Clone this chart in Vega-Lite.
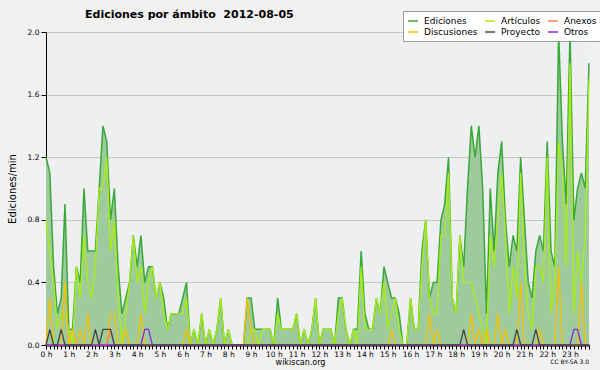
{
  "$schema": "https://vega.github.io/schema/vega-lite/v6.json",
  "width": 543,
  "height": 313,
  "autosize": {"type": "none"},
  "padding": {"left": 46, "top": 32, "right": 11, "bottom": 25},
  "background": "#f1f1f1",
  "config": {"view": {"fill": "#eeeff1", "stroke": null}, "font": "DejaVu Sans"},
  "title": {"text": "Ediciones por ámbito\u00a0 2012-08-05", "anchor": "start", "frame": "group", "dx": 39, "offset": -9, "fontSize": 11, "fontWeight": "bold", "font": "DejaVu Sans", "color": "#000000"},
  "datasets": {
    "ediciones": [
      {"minuto":0,"Ediciones":1.2,"Artículos":0.8,"Discusiones":0,"Proyecto":0,"Anexos":0,"Otros":0},
      {"minuto":10,"Ediciones":1.1,"Artículos":0.6,"Discusiones":0.3,"Proyecto":0.1,"Anexos":0,"Otros":0},
      {"minuto":20,"Ediciones":0.5,"Artículos":0.4,"Discusiones":0,"Proyecto":0,"Anexos":0,"Otros":0},
      {"minuto":30,"Ediciones":0.2,"Artículos":0.1,"Discusiones":0,"Proyecto":0,"Anexos":0,"Otros":0},
      {"minuto":40,"Ediciones":0.3,"Artículos":0.2,"Discusiones":0,"Proyecto":0.1,"Anexos":0,"Otros":0},
      {"minuto":50,"Ediciones":0.9,"Artículos":0.2,"Discusiones":0.4,"Proyecto":0,"Anexos":0,"Otros":0},
      {"minuto":60,"Ediciones":0.1,"Artículos":0.1,"Discusiones":0,"Proyecto":0,"Anexos":0,"Otros":0},
      {"minuto":70,"Ediciones":0.1,"Artículos":0,"Discusiones":0.1,"Proyecto":0,"Anexos":0,"Otros":0},
      {"minuto":80,"Ediciones":0.5,"Artículos":0.5,"Discusiones":0,"Proyecto":0,"Anexos":0,"Otros":0},
      {"minuto":90,"Ediciones":0.4,"Artículos":0.3,"Discusiones":0.1,"Proyecto":0,"Anexos":0,"Otros":0},
      {"minuto":100,"Ediciones":1.0,"Artículos":0.7,"Discusiones":0,"Proyecto":0,"Anexos":0,"Otros":0},
      {"minuto":110,"Ediciones":0.6,"Artículos":0.4,"Discusiones":0.2,"Proyecto":0,"Anexos":0,"Otros":0},
      {"minuto":120,"Ediciones":0.6,"Artículos":0.3,"Discusiones":0,"Proyecto":0,"Anexos":0,"Otros":0},
      {"minuto":130,"Ediciones":0.6,"Artículos":0.5,"Discusiones":0,"Proyecto":0.1,"Anexos":0,"Otros":0},
      {"minuto":140,"Ediciones":1.0,"Artículos":1.0,"Discusiones":0,"Proyecto":0,"Anexos":0,"Otros":0},
      {"minuto":150,"Ediciones":1.4,"Artículos":1.0,"Discusiones":0,"Proyecto":0.1,"Anexos":0,"Otros":0},
      {"minuto":160,"Ediciones":1.3,"Artículos":1.2,"Discusiones":0,"Proyecto":0.1,"Anexos":0,"Otros":0},
      {"minuto":170,"Ediciones":0.8,"Artículos":0.6,"Discusiones":0.2,"Proyecto":0.1,"Anexos":0.1,"Otros":0},
      {"minuto":180,"Ediciones":1.0,"Artículos":0.8,"Discusiones":0.2,"Proyecto":0,"Anexos":0,"Otros":0},
      {"minuto":190,"Ediciones":0.5,"Artículos":0.3,"Discusiones":0,"Proyecto":0,"Anexos":0,"Otros":0},
      {"minuto":200,"Ediciones":0.2,"Artículos":0,"Discusiones":0,"Proyecto":0,"Anexos":0,"Otros":0},
      {"minuto":210,"Ediciones":0.3,"Artículos":0.2,"Discusiones":0.1,"Proyecto":0,"Anexos":0,"Otros":0},
      {"minuto":220,"Ediciones":0.4,"Artículos":0.4,"Discusiones":0,"Proyecto":0,"Anexos":0,"Otros":0},
      {"minuto":230,"Ediciones":0.7,"Artículos":0.7,"Discusiones":0,"Proyecto":0,"Anexos":0,"Otros":0},
      {"minuto":240,"Ediciones":0.5,"Artículos":0.4,"Discusiones":0,"Proyecto":0,"Anexos":0,"Otros":0},
      {"minuto":250,"Ediciones":0.7,"Artículos":0.5,"Discusiones":0.2,"Proyecto":0,"Anexos":0,"Otros":0},
      {"minuto":260,"Ediciones":0.4,"Artículos":0.2,"Discusiones":0,"Proyecto":0,"Anexos":0,"Otros":0.1},
      {"minuto":270,"Ediciones":0.5,"Artículos":0.4,"Discusiones":0,"Proyecto":0,"Anexos":0,"Otros":0.1},
      {"minuto":280,"Ediciones":0.5,"Artículos":0.5,"Discusiones":0,"Proyecto":0,"Anexos":0,"Otros":0},
      {"minuto":290,"Ediciones":0.3,"Artículos":0.3,"Discusiones":0,"Proyecto":0,"Anexos":0,"Otros":0},
      {"minuto":300,"Ediciones":0.4,"Artículos":0.4,"Discusiones":0,"Proyecto":0,"Anexos":0,"Otros":0},
      {"minuto":310,"Ediciones":0.3,"Artículos":0.2,"Discusiones":0,"Proyecto":0,"Anexos":0,"Otros":0},
      {"minuto":320,"Ediciones":0.1,"Artículos":0.1,"Discusiones":0,"Proyecto":0,"Anexos":0,"Otros":0},
      {"minuto":330,"Ediciones":0.2,"Artículos":0.2,"Discusiones":0,"Proyecto":0,"Anexos":0,"Otros":0},
      {"minuto":340,"Ediciones":0.2,"Artículos":0.2,"Discusiones":0,"Proyecto":0,"Anexos":0,"Otros":0},
      {"minuto":350,"Ediciones":0.2,"Artículos":0.2,"Discusiones":0,"Proyecto":0,"Anexos":0,"Otros":0},
      {"minuto":360,"Ediciones":0.3,"Artículos":0.2,"Discusiones":0,"Proyecto":0,"Anexos":0,"Otros":0},
      {"minuto":370,"Ediciones":0.4,"Artículos":0.3,"Discusiones":0.1,"Proyecto":0,"Anexos":0,"Otros":0},
      {"minuto":380,"Ediciones":0,"Artículos":0,"Discusiones":0,"Proyecto":0,"Anexos":0,"Otros":0},
      {"minuto":390,"Ediciones":0.1,"Artículos":0.1,"Discusiones":0,"Proyecto":0,"Anexos":0,"Otros":0},
      {"minuto":400,"Ediciones":0,"Artículos":0,"Discusiones":0,"Proyecto":0,"Anexos":0,"Otros":0},
      {"minuto":410,"Ediciones":0.2,"Artículos":0.2,"Discusiones":0,"Proyecto":0,"Anexos":0,"Otros":0},
      {"minuto":420,"Ediciones":0,"Artículos":0,"Discusiones":0,"Proyecto":0,"Anexos":0,"Otros":0},
      {"minuto":430,"Ediciones":0.1,"Artículos":0.1,"Discusiones":0,"Proyecto":0,"Anexos":0,"Otros":0},
      {"minuto":440,"Ediciones":0,"Artículos":0,"Discusiones":0,"Proyecto":0,"Anexos":0,"Otros":0},
      {"minuto":450,"Ediciones":0.1,"Artículos":0.1,"Discusiones":0,"Proyecto":0,"Anexos":0,"Otros":0},
      {"minuto":460,"Ediciones":0.3,"Artículos":0.3,"Discusiones":0,"Proyecto":0,"Anexos":0,"Otros":0},
      {"minuto":470,"Ediciones":0,"Artículos":0,"Discusiones":0,"Proyecto":0,"Anexos":0,"Otros":0},
      {"minuto":480,"Ediciones":0.1,"Artículos":0.1,"Discusiones":0,"Proyecto":0,"Anexos":0,"Otros":0},
      {"minuto":490,"Ediciones":0,"Artículos":0,"Discusiones":0,"Proyecto":0,"Anexos":0,"Otros":0},
      {"minuto":500,"Ediciones":0,"Artículos":0,"Discusiones":0,"Proyecto":0,"Anexos":0,"Otros":0},
      {"minuto":510,"Ediciones":0,"Artículos":0,"Discusiones":0,"Proyecto":0,"Anexos":0,"Otros":0},
      {"minuto":520,"Ediciones":0,"Artículos":0,"Discusiones":0,"Proyecto":0,"Anexos":0,"Otros":0},
      {"minuto":530,"Ediciones":0.3,"Artículos":0,"Discusiones":0.3,"Proyecto":0,"Anexos":0,"Otros":0},
      {"minuto":540,"Ediciones":0.3,"Artículos":0.1,"Discusiones":0.1,"Proyecto":0,"Anexos":0,"Otros":0},
      {"minuto":550,"Ediciones":0.1,"Artículos":0.1,"Discusiones":0,"Proyecto":0,"Anexos":0,"Otros":0},
      {"minuto":560,"Ediciones":0.1,"Artículos":0,"Discusiones":0,"Proyecto":0,"Anexos":0,"Otros":0},
      {"minuto":570,"Ediciones":0.1,"Artículos":0.1,"Discusiones":0,"Proyecto":0,"Anexos":0,"Otros":0},
      {"minuto":580,"Ediciones":0.1,"Artículos":0.1,"Discusiones":0,"Proyecto":0,"Anexos":0,"Otros":0},
      {"minuto":590,"Ediciones":0.1,"Artículos":0.1,"Discusiones":0,"Proyecto":0,"Anexos":0,"Otros":0},
      {"minuto":600,"Ediciones":0,"Artículos":0,"Discusiones":0,"Proyecto":0,"Anexos":0,"Otros":0},
      {"minuto":610,"Ediciones":0.3,"Artículos":0.2,"Discusiones":0,"Proyecto":0,"Anexos":0,"Otros":0},
      {"minuto":620,"Ediciones":0.1,"Artículos":0.1,"Discusiones":0,"Proyecto":0,"Anexos":0,"Otros":0},
      {"minuto":630,"Ediciones":0.1,"Artículos":0.1,"Discusiones":0,"Proyecto":0,"Anexos":0,"Otros":0},
      {"minuto":640,"Ediciones":0.1,"Artículos":0.1,"Discusiones":0,"Proyecto":0,"Anexos":0,"Otros":0},
      {"minuto":650,"Ediciones":0.1,"Artículos":0.1,"Discusiones":0,"Proyecto":0,"Anexos":0,"Otros":0},
      {"minuto":660,"Ediciones":0.2,"Artículos":0.2,"Discusiones":0,"Proyecto":0,"Anexos":0,"Otros":0},
      {"minuto":670,"Ediciones":0,"Artículos":0,"Discusiones":0,"Proyecto":0,"Anexos":0,"Otros":0},
      {"minuto":680,"Ediciones":0.1,"Artículos":0.1,"Discusiones":0,"Proyecto":0,"Anexos":0,"Otros":0},
      {"minuto":690,"Ediciones":0,"Artículos":0,"Discusiones":0,"Proyecto":0,"Anexos":0,"Otros":0},
      {"minuto":700,"Ediciones":0.1,"Artículos":0.1,"Discusiones":0,"Proyecto":0,"Anexos":0,"Otros":0},
      {"minuto":710,"Ediciones":0.3,"Artículos":0.3,"Discusiones":0,"Proyecto":0,"Anexos":0,"Otros":0},
      {"minuto":720,"Ediciones":0,"Artículos":0,"Discusiones":0,"Proyecto":0,"Anexos":0,"Otros":0},
      {"minuto":730,"Ediciones":0.1,"Artículos":0.1,"Discusiones":0,"Proyecto":0,"Anexos":0,"Otros":0},
      {"minuto":740,"Ediciones":0.1,"Artículos":0.1,"Discusiones":0,"Proyecto":0,"Anexos":0,"Otros":0},
      {"minuto":750,"Ediciones":0.1,"Artículos":0.1,"Discusiones":0,"Proyecto":0,"Anexos":0,"Otros":0},
      {"minuto":760,"Ediciones":0,"Artículos":0,"Discusiones":0,"Proyecto":0,"Anexos":0,"Otros":0},
      {"minuto":770,"Ediciones":0.3,"Artículos":0.2,"Discusiones":0,"Proyecto":0,"Anexos":0,"Otros":0},
      {"minuto":780,"Ediciones":0.3,"Artículos":0.3,"Discusiones":0,"Proyecto":0,"Anexos":0,"Otros":0},
      {"minuto":790,"Ediciones":0.1,"Artículos":0.1,"Discusiones":0,"Proyecto":0,"Anexos":0,"Otros":0},
      {"minuto":800,"Ediciones":0,"Artículos":0,"Discusiones":0,"Proyecto":0,"Anexos":0,"Otros":0},
      {"minuto":810,"Ediciones":0.1,"Artículos":0.1,"Discusiones":0,"Proyecto":0,"Anexos":0,"Otros":0},
      {"minuto":820,"Ediciones":0.1,"Artículos":0,"Discusiones":0,"Proyecto":0,"Anexos":0,"Otros":0},
      {"minuto":830,"Ediciones":0.6,"Artículos":0.5,"Discusiones":0,"Proyecto":0,"Anexos":0,"Otros":0},
      {"minuto":840,"Ediciones":0.2,"Artículos":0.1,"Discusiones":0,"Proyecto":0,"Anexos":0,"Otros":0},
      {"minuto":850,"Ediciones":0.1,"Artículos":0.1,"Discusiones":0,"Proyecto":0,"Anexos":0,"Otros":0},
      {"minuto":860,"Ediciones":0.1,"Artículos":0.1,"Discusiones":0,"Proyecto":0,"Anexos":0,"Otros":0},
      {"minuto":870,"Ediciones":0.3,"Artículos":0.3,"Discusiones":0,"Proyecto":0,"Anexos":0,"Otros":0},
      {"minuto":880,"Ediciones":0.2,"Artículos":0.2,"Discusiones":0,"Proyecto":0,"Anexos":0,"Otros":0},
      {"minuto":890,"Ediciones":0.5,"Artículos":0.4,"Discusiones":0,"Proyecto":0,"Anexos":0,"Otros":0},
      {"minuto":900,"Ediciones":0.4,"Artículos":0.1,"Discusiones":0,"Proyecto":0,"Anexos":0,"Otros":0},
      {"minuto":910,"Ediciones":0.3,"Artículos":0.2,"Discusiones":0.1,"Proyecto":0,"Anexos":0,"Otros":0},
      {"minuto":920,"Ediciones":0.3,"Artículos":0.3,"Discusiones":0,"Proyecto":0,"Anexos":0,"Otros":0},
      {"minuto":930,"Ediciones":0.2,"Artículos":0.1,"Discusiones":0,"Proyecto":0,"Anexos":0,"Otros":0},
      {"minuto":940,"Ediciones":0,"Artículos":0,"Discusiones":0,"Proyecto":0,"Anexos":0,"Otros":0},
      {"minuto":950,"Ediciones":0,"Artículos":0,"Discusiones":0,"Proyecto":0,"Anexos":0,"Otros":0},
      {"minuto":960,"Ediciones":0.3,"Artículos":0.3,"Discusiones":0,"Proyecto":0,"Anexos":0,"Otros":0},
      {"minuto":970,"Ediciones":0.1,"Artículos":0.1,"Discusiones":0,"Proyecto":0,"Anexos":0,"Otros":0},
      {"minuto":980,"Ediciones":0.1,"Artículos":0.1,"Discusiones":0,"Proyecto":0,"Anexos":0,"Otros":0},
      {"minuto":990,"Ediciones":0.6,"Artículos":0.5,"Discusiones":0,"Proyecto":0,"Anexos":0,"Otros":0},
      {"minuto":1000,"Ediciones":0.8,"Artículos":0.8,"Discusiones":0,"Proyecto":0,"Anexos":0,"Otros":0},
      {"minuto":1010,"Ediciones":0.3,"Artículos":0.3,"Discusiones":0.2,"Proyecto":0,"Anexos":0,"Otros":0},
      {"minuto":1020,"Ediciones":0.4,"Artículos":0.2,"Discusiones":0,"Proyecto":0,"Anexos":0,"Otros":0},
      {"minuto":1030,"Ediciones":0.4,"Artículos":0.2,"Discusiones":0.1,"Proyecto":0,"Anexos":0,"Otros":0},
      {"minuto":1040,"Ediciones":0.8,"Artículos":0.7,"Discusiones":0,"Proyecto":0,"Anexos":0,"Otros":0},
      {"minuto":1050,"Ediciones":0.9,"Artículos":0.7,"Discusiones":0,"Proyecto":0,"Anexos":0,"Otros":0},
      {"minuto":1060,"Ediciones":1.2,"Artículos":1.1,"Discusiones":0,"Proyecto":0,"Anexos":0,"Otros":0},
      {"minuto":1070,"Ediciones":0.3,"Artículos":0.3,"Discusiones":0,"Proyecto":0,"Anexos":0,"Otros":0},
      {"minuto":1080,"Ediciones":0.2,"Artículos":0.2,"Discusiones":0,"Proyecto":0,"Anexos":0,"Otros":0},
      {"minuto":1090,"Ediciones":0.7,"Artículos":0.7,"Discusiones":0,"Proyecto":0,"Anexos":0,"Otros":0},
      {"minuto":1100,"Ediciones":0.5,"Artículos":0.4,"Discusiones":0,"Proyecto":0.1,"Anexos":0,"Otros":0},
      {"minuto":1110,"Ediciones":1.0,"Artículos":0.4,"Discusiones":0,"Proyecto":0,"Anexos":0,"Otros":0},
      {"minuto":1120,"Ediciones":1.4,"Artículos":0.4,"Discusiones":0.2,"Proyecto":0,"Anexos":0,"Otros":0},
      {"minuto":1130,"Ediciones":1.2,"Artículos":0.3,"Discusiones":0,"Proyecto":0,"Anexos":0,"Otros":0},
      {"minuto":1140,"Ediciones":1.4,"Artículos":0.2,"Discusiones":0.1,"Proyecto":0,"Anexos":0,"Otros":0},
      {"minuto":1150,"Ediciones":1.0,"Artículos":0.1,"Discusiones":0,"Proyecto":0,"Anexos":0,"Otros":0},
      {"minuto":1160,"Ediciones":0.2,"Artículos":0,"Discusiones":0.1,"Proyecto":0,"Anexos":0,"Otros":0},
      {"minuto":1170,"Ediciones":1.0,"Artículos":0.7,"Discusiones":0,"Proyecto":0,"Anexos":0,"Otros":0},
      {"minuto":1180,"Ediciones":0.6,"Artículos":0.5,"Discusiones":0,"Proyecto":0,"Anexos":0,"Otros":0},
      {"minuto":1190,"Ediciones":1.1,"Artículos":0.8,"Discusiones":0.2,"Proyecto":0,"Anexos":0,"Otros":0},
      {"minuto":1200,"Ediciones":1.3,"Artículos":1.1,"Discusiones":0,"Proyecto":0,"Anexos":0,"Otros":0},
      {"minuto":1210,"Ediciones":0.8,"Artículos":0.7,"Discusiones":0.1,"Proyecto":0,"Anexos":0,"Otros":0},
      {"minuto":1220,"Ediciones":0.5,"Artículos":0.2,"Discusiones":0,"Proyecto":0,"Anexos":0,"Otros":0},
      {"minuto":1230,"Ediciones":0.7,"Artículos":0.5,"Discusiones":0,"Proyecto":0,"Anexos":0,"Otros":0},
      {"minuto":1240,"Ediciones":0.6,"Artículos":0.3,"Discusiones":0,"Proyecto":0.1,"Anexos":0,"Otros":0},
      {"minuto":1250,"Ediciones":1.2,"Artículos":1.1,"Discusiones":0.4,"Proyecto":0,"Anexos":0,"Otros":0},
      {"minuto":1260,"Ediciones":0.8,"Artículos":0.5,"Discusiones":0,"Proyecto":0,"Anexos":0,"Otros":0},
      {"minuto":1270,"Ediciones":0.4,"Artículos":0.2,"Discusiones":0,"Proyecto":0,"Anexos":0,"Otros":0},
      {"minuto":1280,"Ediciones":0.3,"Artículos":0.1,"Discusiones":0,"Proyecto":0,"Anexos":0,"Otros":0},
      {"minuto":1290,"Ediciones":0.6,"Artículos":0.5,"Discusiones":0,"Proyecto":0.1,"Anexos":0,"Otros":0},
      {"minuto":1300,"Ediciones":0.7,"Artículos":0.5,"Discusiones":0.1,"Proyecto":0,"Anexos":0,"Otros":0},
      {"minuto":1310,"Ediciones":0.6,"Artículos":0.4,"Discusiones":0,"Proyecto":0,"Anexos":0,"Otros":0},
      {"minuto":1320,"Ediciones":1.3,"Artículos":1.2,"Discusiones":0,"Proyecto":0,"Anexos":0,"Otros":0},
      {"minuto":1330,"Ediciones":0.6,"Artículos":0.2,"Discusiones":0,"Proyecto":0,"Anexos":0,"Otros":0},
      {"minuto":1340,"Ediciones":0.5,"Artículos":0.4,"Discusiones":0,"Proyecto":0,"Anexos":0,"Otros":0},
      {"minuto":1350,"Ediciones":2.0,"Artículos":1.3,"Discusiones":0.5,"Proyecto":0,"Anexos":0,"Otros":0},
      {"minuto":1360,"Ediciones":1.3,"Artículos":1.1,"Discusiones":0,"Proyecto":0,"Anexos":0,"Otros":0},
      {"minuto":1370,"Ediciones":0.9,"Artículos":0.5,"Discusiones":0,"Proyecto":0,"Anexos":0,"Otros":0},
      {"minuto":1380,"Ediciones":2.0,"Artículos":1.8,"Discusiones":0,"Proyecto":0,"Anexos":0,"Otros":0},
      {"minuto":1390,"Ediciones":0.8,"Artículos":0.2,"Discusiones":0,"Proyecto":0,"Anexos":0,"Otros":0.1},
      {"minuto":1400,"Ediciones":1.0,"Artículos":0.6,"Discusiones":0,"Proyecto":0,"Anexos":0,"Otros":0.1},
      {"minuto":1410,"Ediciones":1.1,"Artículos":0.4,"Discusiones":0.4,"Proyecto":0,"Anexos":0,"Otros":0},
      {"minuto":1420,"Ediciones":1.0,"Artículos":0.7,"Discusiones":0,"Proyecto":0,"Anexos":0,"Otros":0},
      {"minuto":1430,"Ediciones":1.8,"Artículos":1.7,"Discusiones":0,"Proyecto":0,"Anexos":0,"Otros":0}
    ]
  },
  "data": {"name": "ediciones"},
  "layer": [
    {
      "mark": {"type": "area", "color": "#9ecb9e", "opacity": 1, "line": {"color": "#3aa83a", "strokeWidth": 1.5}},
      "encoding": {
        "x": {
          "field": "minuto", "type": "quantitative",
          "scale": {"domain": [0, 1430], "nice": false, "zero": false},
          "axis": {
            "tickCount": 143,
            "labelExpr": "datum.value % 60 == 0 ? (datum.value / 60) + ' h' : ''",
            "labelOverlap": false, "labelFlush": false,
            "labelFontSize": 7.5, "labelColor": "#000000", "labelPadding": 1,
            "tickColor": "#000000", "tickSize": 4, "tickWidth": 1,
            "domainColor": "#000000", "domainWidth": 2,
            "grid": false,
            "title": "wikiscan.org", "titleFontSize": 8, "titleFontWeight": "normal", "titleColor": "#000000",
            "titleX": 254, "titlePadding": 1
          }
        },
        "y": {
          "field": "Ediciones", "type": "quantitative",
          "scale": {"domain": [0, 2], "nice": false},
          "axis": {
            "values": [0,0.1,0.2,0.3,0.4,0.5,0.6,0.7,0.8,0.9,1.0,1.1,1.2,1.3,1.4,1.5,1.6,1.7,1.8,1.9,2.0],
            "labelExpr": "round(datum.value*10) % 4 == 0 ? format(datum.value, '.1f') : ''",
            "labelFontSize": 7.5, "labelColor": "#000000", "labelPadding": 2,
            "tickColor": "#000000",
            "tickSize": {"condition": {"test": "round(datum.value*10) % 4 == 0", "value": 5}, "value": 3},
            "domainColor": "#000000", "domainWidth": 1,
            "grid": true, "gridColor": "#c8c8c8", "gridWidth": 1,
            "gridOpacity": {"condition": {"test": "round(datum.value*10) % 4 == 0 && datum.value > 0", "value": 1}, "value": 0},
            "title": "Ediciones/min", "titleFontSize": 10, "titleFontWeight": "normal", "titleColor": "#000000", "titlePadding": 10
          }
        }
      }
    },
    {
      "transform": [{"fold": ["Artículos", "Discusiones", "Anexos", "Otros", "Proyecto"], "as": ["serie", "valor"]}],
      "mark": {"type": "line", "strokeWidth": 1.3},
      "encoding": {
        "x": {"field": "minuto", "type": "quantitative"},
        "y": {"field": "valor", "type": "quantitative"},
        "color": {
          "field": "serie", "type": "nominal",
          "scale": {"domain": ["Ediciones", "Artículos", "Anexos", "Discusiones", "Proyecto", "Otros"], "range": ["#3aa83a", "#aaee10", "#ff7f50", "#f5c000", "#444444", "#8a2be2"]},
          "legend": {
            "orient": "none", "legendX": 357, "legendY": -21, "direction": "horizontal", "columns": 3,
            "title": null, "symbolType": "stroke", "symbolSize": 100, "symbolStrokeWidth": 1.5,
            "labelFontSize": 9, "labelColor": "#000000", "labelOffset": 5, "labelLimit": 0,
            "fillColor": "#ffffff", "strokeColor": "#999999", "padding": 4, "rowPadding": 0, "columnPadding": 4
          }
        }
      }
    },
    {
      "data": {"values": [{"texto": "CC BY-SA 3.0"}]},
      "mark": {"type": "text", "align": "right", "baseline": "alphabetic", "fontSize": 6, "color": "#000000"},
      "encoding": {
        "x": {"datum": 1430, "type": "quantitative"},
        "y": {"datum": -0.12, "type": "quantitative"},
        "text": {"field": "texto"}
      }
    }
  ]
}
